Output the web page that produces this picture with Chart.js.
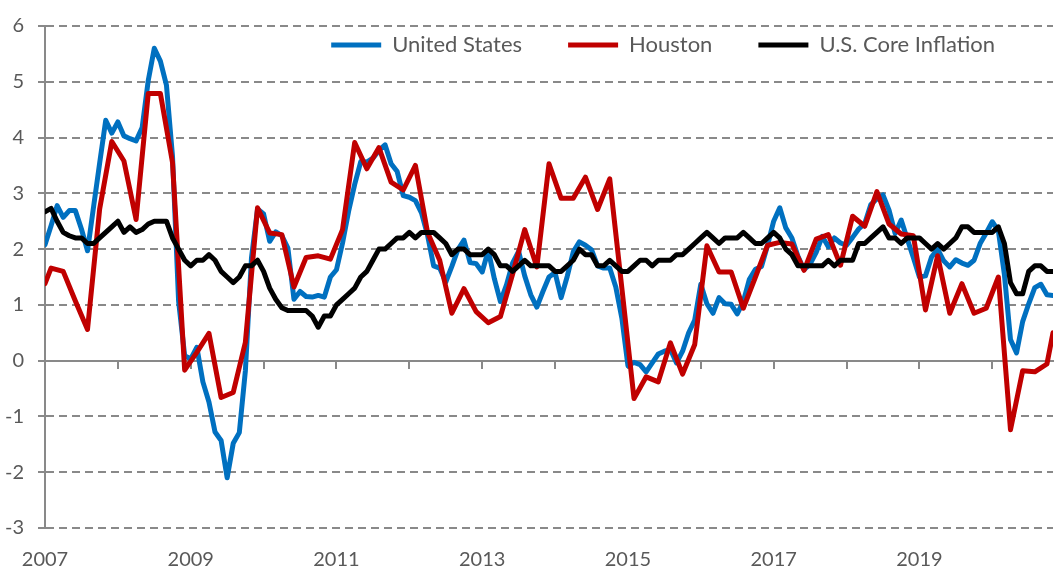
<!DOCTYPE html>
<html>
<head>
<meta charset="utf-8">
<title>Inflation: United States vs Houston</title>
<script src="https://cdn.jsdelivr.net/npm/chart.js@4.4.1/dist/chart.umd.min.js"></script>
<style>
  html, body { margin: 0; padding: 0; background: #fff; }
  #wrap { width: 1054px; height: 571px; }
</style>
</head>
<body>
<div id="wrap"><canvas id="myChart" width="1054" height="571"></canvas></div>
<script>
// monthly values, Jan 2007 .. Nov 2020 (x = months since Jan 2007)
const yearLabels = ["2007", "2009", "2011", "2013", "2015", "2017", "2019"];
const seriesNames = ["United States", "Houston", "U.S. Core Inflation"];

const unitedStates = [
  2.08, 2.42, 2.78, 2.57, 2.69, 2.69, 2.36, 1.97, 2.76, 3.54, 4.31, 4.08,
  4.28, 4.03, 3.98, 3.94, 4.18, 5.02, 5.60, 5.37, 4.94, 3.66, 1.07, 0.09,
  0.03, 0.24, -0.38, -0.74, -1.28, -1.43, -2.10, -1.48, -1.29, -0.18, 1.84, 2.72,
  2.63, 2.14, 2.31, 2.24, 2.02, 1.10, 1.24, 1.15, 1.14, 1.17, 1.14, 1.50,
  1.63, 2.11, 2.68, 3.16, 3.57, 3.56, 3.63, 3.77, 3.87, 3.53, 3.39, 2.96,
  2.93, 2.87, 2.65, 2.25, 1.70, 1.66, 1.41, 1.69, 1.99, 2.16, 1.76, 1.74,
  1.59, 1.98, 1.47, 1.06, 1.36, 1.75, 1.96, 1.52, 1.18, 0.96, 1.24, 1.50,
  1.58, 1.13, 1.51, 1.95, 2.13, 2.07, 1.99, 1.70, 1.66, 1.66, 1.32, 0.76,
  -0.09, -0.03, -0.07, -0.20, -0.04, 0.12, 0.17, 0.20, -0.04, 0.17, 0.50, 0.73,
  1.37, 1.02, 0.85, 1.13, 1.02, 1.01, 0.84, 1.06, 1.46, 1.64, 1.69, 2.07,
  2.50, 2.74, 2.38, 2.20, 1.87, 1.63, 1.73, 1.94, 2.23, 2.04, 2.20, 2.11,
  2.07, 2.21, 2.36, 2.46, 2.80, 2.90, 2.97, 2.70, 2.28, 2.52, 2.18, 1.85,
  1.50, 1.52, 1.86, 2.00, 1.79, 1.68, 1.81, 1.75, 1.71, 1.80, 2.10, 2.29,
  2.49, 2.33, 1.54, 0.38, 0.14, 0.70, 1.02, 1.31, 1.37, 1.18, 1.17,
];

// Houston only has a reading every other month
const houston = [
  1.38, 1.66, null, 1.60, null, 1.07, null, 0.56, null, 2.72, null, 3.93,
  null, 3.58, null, 2.53, null, 4.79, null, 4.79, null, 3.55, null, -0.17,
  null, 0.15, null, 0.49, null, -0.66, null, -0.57, null, 0.33, null, 2.74,
  null, 2.29, null, 2.26, null, 1.32, null, 1.85, null, 1.88, null, 1.82,
  null, 2.35, null, 3.91, null, 3.44, null, 3.82, null, 3.20, null, 3.06,
  null, 3.50, null, 2.30, null, 1.80, null, 0.85, null, 1.29, null, 0.88,
  null, 0.68, null, 0.79, null, 1.55, null, 2.35, null, 1.68, null, 3.53,
  null, 2.91, null, 2.91, null, 3.29, null, 2.71, null, 3.26, null, 1.30,
  null, -0.68, null, -0.29, null, -0.38, null, 0.32, null, -0.24, null, 0.29,
  null, 2.06, null, 1.59, null, 1.59, null, 0.94, null, 1.50, null, 2.07,
  null, 2.12, null, 2.09, null, 1.62, null, 2.18, null, 2.26, null, 1.71,
  null, 2.59, null, 2.41, null, 3.03, null, 2.45, null, 2.27, null, 2.24,
  null, 0.91, null, 1.88, null, 0.85, null, 1.38, null, 0.85, null, 0.94,
  null, 1.50, null, -1.24, null, -0.18, null, -0.20, null, -0.06, 0.50,
];

const coreInflation = [
  2.67, 2.73, 2.5, 2.3, 2.24, 2.2, 2.2, 2.1, 2.1, 2.2, 2.3, 2.4,
  2.5, 2.3, 2.4, 2.3, 2.35, 2.45, 2.5, 2.5, 2.5, 2.2, 2.0, 1.8,
  1.7, 1.8, 1.8, 1.9, 1.8, 1.6, 1.5, 1.4, 1.5, 1.7, 1.7, 1.8,
  1.6, 1.3, 1.1, 0.95, 0.9, 0.9, 0.9, 0.9, 0.8, 0.6, 0.8, 0.8,
  1.0, 1.1, 1.2, 1.3, 1.5, 1.6, 1.8, 2.0, 2.0, 2.1, 2.2, 2.2,
  2.3, 2.2, 2.3, 2.3, 2.3, 2.2, 2.1, 1.9, 2.0, 2.0, 1.9, 1.9,
  1.9, 2.0, 1.9, 1.7, 1.7, 1.6, 1.7, 1.8, 1.7, 1.7, 1.7, 1.7,
  1.6, 1.6, 1.7, 1.8, 2.0, 1.9, 1.9, 1.7, 1.7, 1.8, 1.7, 1.6,
  1.6, 1.7, 1.8, 1.8, 1.7, 1.8, 1.8, 1.8, 1.9, 1.9, 2.0, 2.1,
  2.2, 2.3, 2.2, 2.1, 2.2, 2.2, 2.2, 2.3, 2.2, 2.1, 2.1, 2.2,
  2.3, 2.2, 2.0, 1.9, 1.7, 1.7, 1.7, 1.7, 1.7, 1.8, 1.7, 1.8,
  1.8, 1.8, 2.1, 2.1, 2.2, 2.3, 2.4, 2.2, 2.2, 2.1, 2.2, 2.2,
  2.2, 2.1, 2.0, 2.1, 2.0, 2.1, 2.2, 2.4, 2.4, 2.3, 2.3, 2.3,
  2.3, 2.4, 2.1, 1.4, 1.2, 1.2, 1.6, 1.7, 1.7, 1.6, 1.6,
];

const lastMonth = unitedStates.length - 1;
const gridGrey = "#898989";
const textGrey = "#595959";

function toPoints(values) {
  return values.map((v, i) => ({ x: i, y: v }));
}

function lineSet(label, values, color, order) {
  return {
    label: label,
    data: toPoints(values),
    borderColor: color,
    backgroundColor: color,
    borderWidth: 5,
    borderJoinStyle: "round",
    borderCapStyle: "round",
    pointRadius: 0,
    pointHoverRadius: 0,
    tension: 0,
    spanGaps: true,
    order: order,
  };
}

// the legend takes no room in the layout; move it into the plot area here
const legendPosition = {
  id: "legendPosition",
  afterLayout(chart) {
    const legend = chart.legend;
    const pad = legend.options.labels.padding;
    legend.top = 34 - pad;
    legend.bottom = legend.top + 2 * pad + 30;
    legend.left = 0;
    legend.right = 995 + pad;
  },
};

Chart.defaults.font.family = "Lato";

const ctx = document.getElementById("myChart").getContext("2d");
new Chart(ctx, {
  type: "line",
  data: {
    datasets: [
      lineSet(seriesNames[0], unitedStates, "#0070C0", 3),
      lineSet(seriesNames[1], houston, "#C00000", 2),
      lineSet(seriesNames[2], coreInflation, "#000000", 1),
    ],
  },
  options: {
    responsive: false,
    animation: false,
    layout: { padding: { top: 18, right: 1, left: 0, bottom: 0 } },
    plugins: {
      tooltip: { enabled: false },
      legend: {
        position: "top",
        align: "end",
        maxHeight: 0.001,
        labels: {
          usePointStyle: true,
          pointStyle: "line",
          pointStyleWidth: 50,
          padding: 46,
          color: textGrey,
          font: { size: 22 },
          sort: (a, b) => a.datasetIndex - b.datasetIndex,
        },
      },
    },
    scales: {
      x: {
        type: "linear",
        position: "bottom",
        min: 0,
        max: lastMonth,
        grid: { display: false, drawTicks: false },
        border: { display: false },
        ticks: {
          stepSize: 24,
          includeBounds: false,
          autoSkip: false,
          maxRotation: 0,
          padding: 20,
          color: textGrey,
          font: { size: 20 },
          callback: (value) => yearLabels[value / 24] || "",
        },
        afterFit: (scale) => { scale.height = 43; },
      },
      // zero line with a tick mark at every January
      xZero: {
        axis: "x",
        type: "linear",
        position: { y: 0 },
        min: 0,
        max: lastMonth,
        grid: { drawOnChartArea: false, drawTicks: true, tickLength: 7, color: gridGrey, lineWidth: 2 },
        border: { display: true, color: gridGrey, width: 2 },
        ticks: { display: false, stepSize: 12, includeBounds: false },
      },
      y: {
        min: -3,
        max: 6,
        grid: {
          color: (c) => (c.tick && c.tick.value === 0 ? "rgba(0,0,0,0)" : gridGrey),
          tickColor: gridGrey,
          lineWidth: 2,
          tickLength: 7,
        },
        border: { display: true, color: gridGrey, width: 2, dash: [8, 5] },
        ticks: {
          stepSize: 1,
          padding: 14,
          color: textGrey,
          font: { size: 20 },
        },
        afterFit: (scale) => { scale.width = 45; },
      },
    },
  },
  plugins: [legendPosition],
});
</script>
</body>
</html>
